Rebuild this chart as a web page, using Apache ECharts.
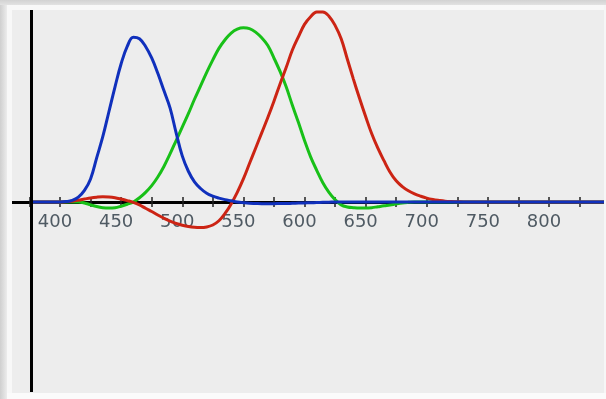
<!DOCTYPE html>
<html>
<head>
<meta charset="utf-8">
<title>rgb</title>
<script src="https://cdn.jsdelivr.net/npm/echarts@6/dist/echarts.min.js"></script>
<style>
    html, body { margin: 0; padding: 0; }
    #chart { width: 606px; height: 399px; }
</style>
</head>
<body>
<div id="chart"></div>
<script>
// wavelength (nm) sample points
var wavelengths = [
    376, 380, 385, 390, 395, 400, 405, 410, 415, 420,
    425, 430, 435, 440, 445, 450, 455, 460, 465, 470,
    475, 480, 485, 490, 495, 500, 505, 510, 515, 520,
    525, 530, 535, 540, 545, 550, 555, 560, 565, 570,
    575, 580, 585, 590, 595, 600, 605, 610, 615, 620,
    625, 630, 635, 640, 645, 650, 655, 660, 665, 670,
    675, 680, 685, 690, 695, 700, 705, 710, 715, 720,
    725, 730, 780, 845
];
var redValues = [
    0, 0, 0, 0, 0, 0, 0.001, 0.004, 0.009, 0.015,
    0.021, 0.025, 0.027, 0.026, 0.022, 0.015, 0.007, -0.002, -0.015, -0.033,
    -0.05, -0.068, -0.085, -0.1, -0.112, -0.121, -0.128, -0.132, -0.133, -0.13,
    -0.12, -0.098, -0.06, -0.01, 0.05, 0.12, 0.2, 0.28, 0.36, 0.44,
    0.525, 0.615, 0.7, 0.79, 0.86, 0.925, 0.965, 0.99, 0.99, 0.968,
    0.92, 0.85, 0.745, 0.64, 0.54, 0.445, 0.355, 0.28, 0.215, 0.155,
    0.11, 0.08, 0.058, 0.042, 0.03, 0.02, 0.013, 0.008, 0.004, 0.002,
    0.001, 0, 0, 0
];
var greenValues = [
    0, 0, 0, 0, 0, 0, 0, 0, 0, -0.005,
    -0.015, -0.024, -0.03, -0.032, -0.03, -0.022, -0.012, 0, 0.022, 0.05,
    0.085, 0.13, 0.185, 0.25, 0.32, 0.39, 0.46, 0.535, 0.605, 0.675,
    0.74, 0.8, 0.845, 0.88, 0.9, 0.907, 0.903, 0.885, 0.855, 0.815,
    0.75, 0.68, 0.6, 0.505, 0.415, 0.32, 0.235, 0.165, 0.1, 0.05,
    0.012, -0.015, -0.026, -0.03, -0.032, -0.032, -0.03, -0.025, -0.02, -0.016,
    -0.01, -0.005, -0.002, 0, 0, 0, 0, 0, 0, 0,
    0, 0, 0, 0
];
var blueValues = [
    0, 0, 0, 0, 0, 0, 0.002, 0.008, 0.025, 0.06,
    0.12, 0.23, 0.34, 0.47, 0.6, 0.72, 0.81, 0.858, 0.85, 0.81,
    0.75, 0.67, 0.58, 0.49, 0.36, 0.24, 0.16, 0.105, 0.07, 0.045,
    0.03, 0.02, 0.012, 0.006, 0, -0.004, -0.007, -0.008, -0.009, -0.009,
    -0.009, -0.008, -0.008, -0.007, -0.006, -0.005, -0.004, -0.003, -0.002, -0.001,
    0, 0, 0, 0, 0, 0, 0, 0, 0, 0,
    0, 0, 0, 0, 0, 0, 0, 0, 0, 0,
    0, 0, 0, 0
];
var tickLabels = [400, 450, 500, 550, 600, 650, 700, 750, 800];
var yAxisAt = 376.3; // wavelength where the vertical axis sits

var yMin = -0.99, yMax = 1;
var gridTop = 10, gridBottom = 7, chartH = 399;

function pairs(vals) {
    return wavelengths.map(function (w, i) { return [w, vals[i]]; });
}

function curve(name, color, vals) {
    return {
        name: name,
        type: 'line',
        data: pairs(vals),
        showSymbol: false,
        smooth: 0.4,
        lineStyle: { color: color, width: 3 },
        silent: true
    };
}

// pixel distance from grid edges to the zero line, used to shift the axes there
var plotH = chartH - gridTop - gridBottom;
var zeroFromTop = plotH * yMax / (yMax - yMin);
var zeroFromBottom = plotH - zeroFromTop;

function xAxisFor(pos, offset, label) {
    return {
        type: 'value',
        position: pos,
        offset: offset,
        min: 350,
        max: 850,
        interval: 25,
        axisLine: { onZero: false, lineStyle: { color: '#000', width: 3 } },
        axisTick: { length: 5, lineStyle: { color: '#222', width: 1.5 } },
        axisLabel: label,
        splitLine: { show: false }
    };
}

var chart = echarts.init(document.getElementById('chart'));
var option = {
    animation: false,
    backgroundColor: '#ededed',
    grid: { left: -1.125, right: -4.125, top: gridTop, bottom: gridBottom, containLabel: false, outerBoundsMode: 'none' },
    xAxis: [
        xAxisFor('bottom', -zeroFromBottom, {
            show: true,
            margin: 11,
            formatter: function (v) {
                var n = Math.round(v);
                return tickLabels.indexOf(n) >= 0 ? '{t|' + n + '}' : '';
            },
            rich: { t: { color: '#4f5a63', fontSize: 18, fontFamily: 'DejaVu Sans', padding: [0, 10, 0, 0] } }
        }),
        xAxisFor('top', -zeroFromTop, { show: false })
    ],
    yAxis: {
        type: 'value',
        min: yMin,
        max: yMax,
        axisLine: { show: false },
        axisTick: { show: false },
        axisLabel: { show: false },
        splitLine: { show: false }
    },
    series: [
        {
            type: 'line',
            data: [],
            markLine: {
                silent: true,
                symbol: 'none',
                label: { show: false },
                lineStyle: { color: '#000', width: 3, type: 'solid' },
                data: [{ xAxis: yAxisAt }]
            }
        },
        curve('green', '#18c018', greenValues),
        curve('red', '#cc2414', redValues),
        curve('blue', '#1030bc', blueValues)
    ],
    graphic: [
        { type: 'rect', z: 100, shape: { x: 0, y: 0, width: 12, height: 399 }, style: { fill: '#f8f8f8' } },
        { type: 'rect', z: 100, shape: { x: 0, y: 0, width: 606, height: 10 }, style: { fill: '#f8f8f8' } },
        { type: 'rect', z: 100, shape: { x: 604, y: 0, width: 2, height: 399 }, style: { fill: '#f6f6f6' } },
        { type: 'rect', z: 100, shape: { x: 0, y: 393, width: 606, height: 6 }, style: { fill: '#fbfbfb' } },
        {
            type: 'rect', z: 101, shape: { x: 0, y: 0, width: 7, height: 399 },
            style: { fill: new echarts.graphic.LinearGradient(0, 0, 1, 0, [{ offset: 0, color: '#cfcfcf' }, { offset: 1, color: '#ececec' }]) }
        },
        {
            type: 'rect', z: 101, shape: { x: 0, y: 0, width: 606, height: 5 },
            style: { fill: new echarts.graphic.LinearGradient(0, 0, 0, 1, [{ offset: 0, color: '#d2d2d2' }, { offset: 1, color: '#e2e2e2' }]) }
        }
    ]
};
chart.setOption(option);
</script>
</body>
</html>
